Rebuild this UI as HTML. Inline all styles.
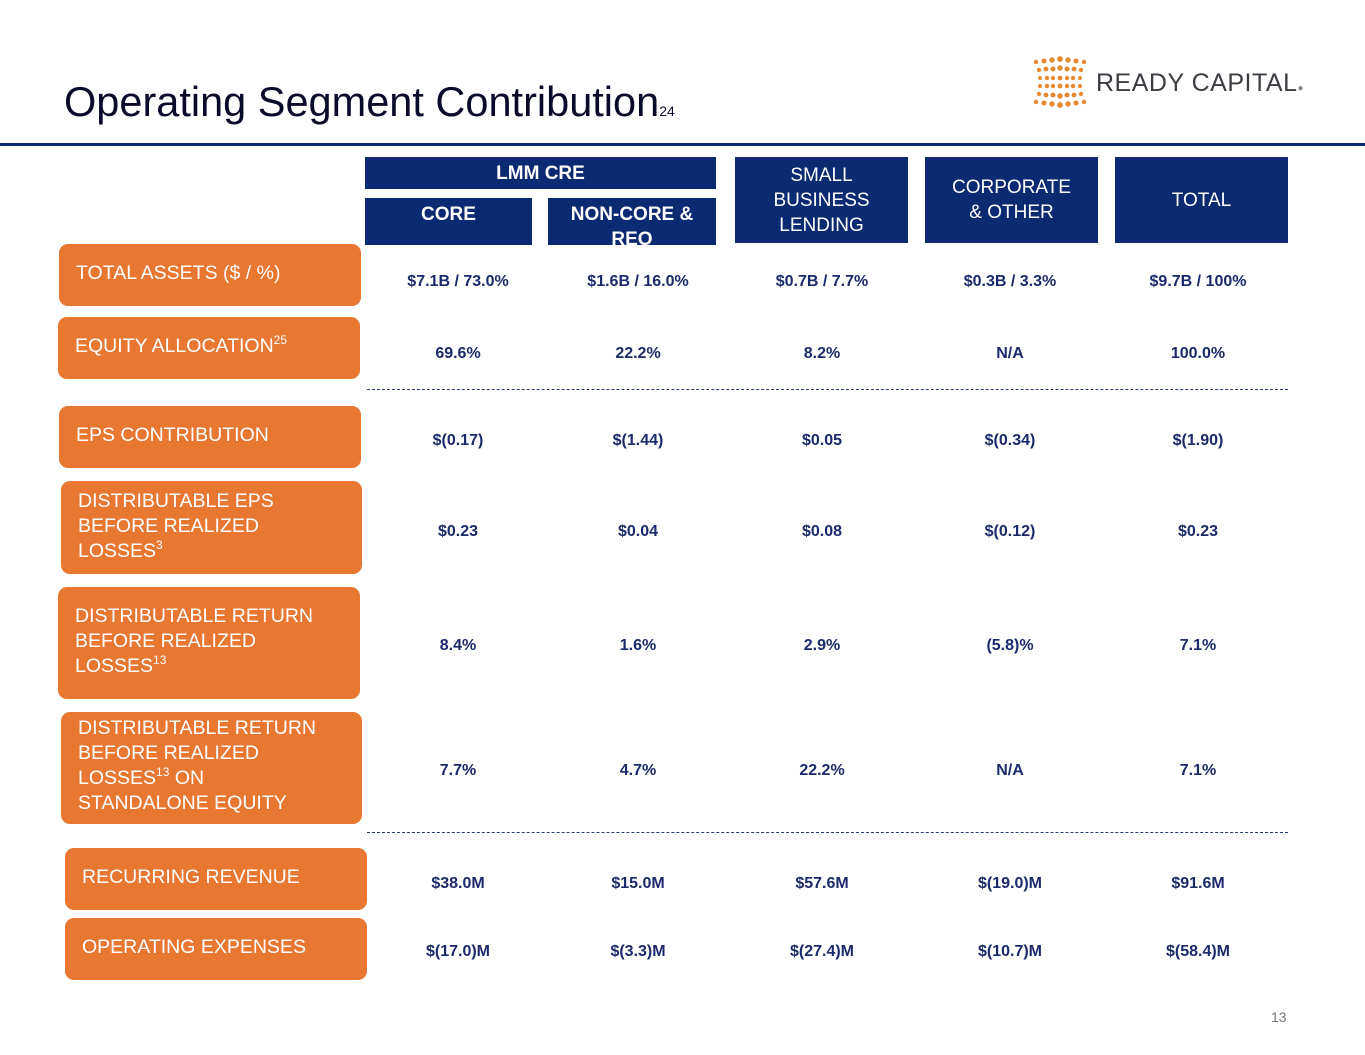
<!DOCTYPE html>
<html><head><meta charset="utf-8"><style>
body{margin:0;width:1365px;height:1055px;position:relative;background:#fff;font-family:"Liberation Sans",sans-serif;overflow:hidden}
.a{position:absolute}
.h{position:absolute;background:#0c2a72;color:#fff;text-align:center;display:flex;align-items:center;justify-content:center;font-size:19px;line-height:25px;overflow:hidden}
.b{font-weight:bold}
.o{position:absolute;background:#e87731;color:#fff;border-radius:9px;font-size:19.5px;line-height:25px;padding-left:17px;box-sizing:border-box;display:block;overflow:hidden}
.v{position:absolute;width:180px;margin-left:-90px;text-align:center;color:#1b2a6b;font-weight:bold;font-size:16px}
.d{position:absolute;left:367px;width:921px;border-top:1.5px dashed #2a3a6a}
sup{font-size:12px;line-height:0;vertical-align:8px}
</style></head><body>
<div class="a" style="left:64px;top:78px;font-size:41.5px;color:#0a0a2a">Operating Segment Contribution<span style="font-size:14px">24</span></div>
<div class="a" style="left:1030px;top:56px;width:280px;height:56px">
<svg width="60" height="56" style="position:absolute;left:0;top:0">
<g fill="#e8892e">
<circle cx="6" cy="6" r="2.2"/><circle cx="14" cy="5" r="2.5"/><circle cx="22" cy="4" r="2.7"/><circle cx="30" cy="3" r="2.9"/><circle cx="38" cy="4" r="2.7"/><circle cx="46" cy="5" r="2.5"/><circle cx="54" cy="6" r="2.2"/>
<circle cx="9" cy="14" r="2.2"/><circle cx="16" cy="13" r="2.4"/><circle cx="23" cy="13" r="2.5"/><circle cx="30" cy="12" r="2.7"/><circle cx="37" cy="13" r="2.5"/><circle cx="44" cy="13" r="2.4"/><circle cx="51" cy="14" r="2.2"/>
<circle cx="10" cy="22" r="2"/><circle cx="17" cy="22" r="2.2"/><circle cx="23" cy="22" r="2.2"/><circle cx="30" cy="22" r="2.4"/><circle cx="37" cy="22" r="2.2"/><circle cx="43" cy="22" r="2.2"/><circle cx="50" cy="22" r="2"/>
<circle cx="10" cy="30" r="2"/><circle cx="17" cy="30" r="2.2"/><circle cx="23" cy="30" r="2.2"/><circle cx="30" cy="30" r="2.4"/><circle cx="37" cy="30" r="2.2"/><circle cx="43" cy="30" r="2.2"/><circle cx="50" cy="30" r="2"/>
<circle cx="9" cy="38" r="2.2"/><circle cx="16" cy="39" r="2.4"/><circle cx="23" cy="39" r="2.5"/><circle cx="30" cy="40" r="2.7"/><circle cx="37" cy="39" r="2.5"/><circle cx="44" cy="39" r="2.4"/><circle cx="51" cy="38" r="2.2"/>
<circle cx="6" cy="46" r="2.2"/><circle cx="14" cy="47" r="2.5"/><circle cx="22" cy="48" r="2.7"/><circle cx="30" cy="49" r="2.9"/><circle cx="38" cy="48" r="2.7"/><circle cx="46" cy="47" r="2.5"/><circle cx="54" cy="46" r="2.2"/>
</g></svg>
<div class="a" style="left:66px;top:13px;font-size:25px;color:#3a3d42;letter-spacing:0.5px">READY CAPITAL<span style="font-size:10px;color:#888">●</span></div>
</div>
<div class="a" style="left:0;top:143px;width:1365px;height:3px;background:#0c2a72"></div>

<div class="h b" style="left:365px;top:157px;width:351px;height:32px">LMM CRE</div>
<div class="h b" style="left:365px;top:198px;width:167px;height:47px;align-items:flex-start;padding-top:4px;box-sizing:border-box">CORE</div>
<div class="h b" style="left:548px;top:198px;width:168px;height:47px;align-items:flex-start;padding-top:4px;box-sizing:border-box">NON-CORE &amp;<br>REO</div>
<div class="h" style="left:735px;top:157px;width:173px;height:86px">SMALL<br>BUSINESS<br>LENDING</div>
<div class="h" style="left:925px;top:157px;width:173px;height:86px">CORPORATE<br>&amp; OTHER</div>
<div class="h" style="left:1115px;top:157px;width:173px;height:86px">TOTAL</div>

<div class="o" style="left:59px;top:244px;width:302px;height:62px;padding-top:17px">TOTAL ASSETS ($ / %)</div>
<div class="o" style="left:58px;top:317px;width:302px;height:62px;padding-top:17px">EQUITY ALLOCATION<sup>25</sup></div>
<div class="o" style="left:59px;top:406px;width:302px;height:62px;padding-top:17px">EPS CONTRIBUTION</div>
<div class="o" style="left:61px;top:481px;width:301px;height:93px;padding-top:8px">DISTRIBUTABLE EPS<br>BEFORE REALIZED<br>LOSSES<sup>3</sup></div>
<div class="o" style="left:58px;top:587px;width:302px;height:112px;padding-top:17px">DISTRIBUTABLE RETURN<br>BEFORE REALIZED<br>LOSSES<sup>13</sup></div>
<div class="o" style="left:61px;top:712px;width:301px;height:112px;padding-top:4px">DISTRIBUTABLE RETURN<br>BEFORE REALIZED<br>LOSSES<sup>13</sup> ON<br>STANDALONE EQUITY</div>
<div class="o" style="left:65px;top:848px;width:302px;height:62px;padding-top:17px">RECURRING REVENUE</div>
<div class="o" style="left:65px;top:918px;width:302px;height:62px;padding-top:17px">OPERATING EXPENSES</div>

<div class="d" style="top:389px"></div>
<div class="d" style="top:832px"></div>

<div id="vals"></div>
<div class="a" style="left:1271px;top:1009px;font-size:14px;color:#777">13</div>
<script>
const cols=[458,638,822,1010,1198];
const rowY=[280,352,439,530,644,769,882,950];
const rows=[
["$7.1B / 73.0%","$1.6B / 16.0%","$0.7B / 7.7%","$0.3B / 3.3%","$9.7B / 100%"],
["69.6%","22.2%","8.2%","N/A","100.0%"],
["$(0.17)","$(1.44)","$0.05","$(0.34)","$(1.90)"],
["$0.23","$0.04","$0.08","$(0.12)","$0.23"],
["8.4%","1.6%","2.9%","(5.8)%","7.1%"],
["7.7%","4.7%","22.2%","N/A","7.1%"],
["$38.0M","$15.0M","$57.6M","$(19.0)M","$91.6M"],
["$(17.0)M","$(3.3)M","$(27.4)M","$(10.7)M","$(58.4)M"]];
const host=document.getElementById('vals');
rows.forEach((r,i)=>r.forEach((t,j)=>{
const el=document.createElement('div');
el.className='v';


el.style.left=cols[j]+'px';el.style.top=(rowY[i]-7)+'px';
el.textContent=t;host.appendChild(el);}));
</script>
</body></html>
